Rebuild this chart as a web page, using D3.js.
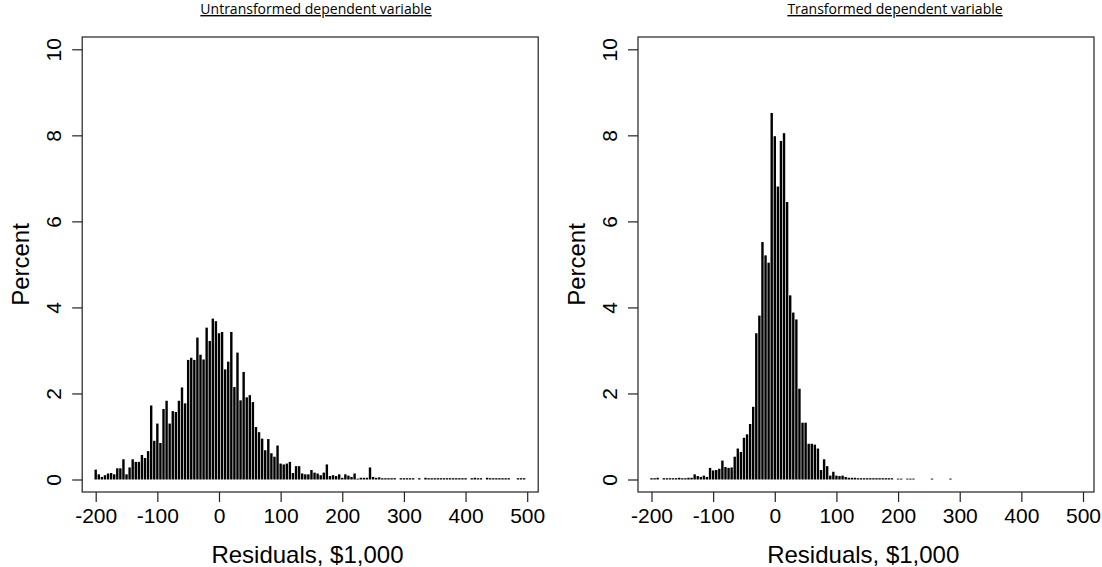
<!DOCTYPE html>
<html>
<head>
<meta charset="utf-8">
<script src="https://cdn.jsdelivr.net/npm/d3@7"></script>
<style>
  html, body { margin: 0; padding: 0; background: #fff; }
  svg { display: block; }
</style>
</head>
<body>
<div id="chart"></div>
<script>
// Residual histograms, 5-unit bins starting at -200 (percent of observations)
const binStart = -200;
const binWidth = 5;

const untransformedPct = [
  0.23, 0.12, 0.06, 0.10, 0.14, 0.15, 0.12, 0.26, 0.26, 0.47,
  0.12, 0.28, 0.47, 0.41, 0.41, 0.57, 0.50, 0.66, 1.72, 0.90,
  1.30, 0.85, 1.64, 1.83, 1.30, 1.59, 1.57, 1.83, 2.14, 1.77,
  2.78, 2.83, 2.78, 3.30, 2.90, 2.79, 3.53, 3.22, 3.74, 3.68,
  3.40, 3.43, 2.56, 2.74, 3.43, 2.15, 2.95, 1.84, 2.50, 1.91,
  1.96, 1.80, 1.22, 1.10, 0.95, 0.68, 0.94, 0.61, 0.53, 0.79,
  0.37, 0.35, 0.37, 0.41, 0.15, 0.31, 0.31, 0.14, 0.12, 0.12,
  0.22, 0.16, 0.14, 0.10, 0.16, 0.35, 0.08, 0.10, 0.08, 0.12,
  0.04, 0.12, 0.09, 0.06, 0.14, 0.02, 0.04, 0.04, 0.04, 0.28,
  0.06, 0.04, 0.05, 0.03, 0.03, 0.03, 0.03, 0.03, 0, 0.03,
  0.03, 0.03, 0.03, 0.03, 0, 0.03, 0, 0.04, 0.03, 0.03,
  0.03, 0.03, 0.03, 0.03, 0.03, 0.03, 0.03, 0.03, 0.03, 0.03,
  0.03, 0, 0.03, 0.04, 0.03, 0.03, 0, 0.04, 0.03, 0.03,
  0.03, 0.03, 0.03, 0.03, 0.03, 0, 0, 0.03, 0.03, 0.03
];

const transformedPct = [
  0.03, 0.03, 0.04, 0, 0.03, 0.03, 0.03, 0.03, 0.03, 0.04,
  0.03, 0.03, 0.04, 0.04, 0.12, 0.08, 0.06, 0.09, 0.06, 0.27,
  0.21, 0.22, 0.25, 0.44, 0.29, 0.27, 0.28, 0.53, 0.72, 0.64,
  0.97, 1.05, 1.29, 1.69, 3.40, 3.81, 5.52, 5.21, 5.04, 8.52,
  7.98, 6.81, 7.87, 8.05, 6.45, 4.28, 3.88, 3.72, 2.11, 1.32,
  1.32, 0.83, 0.83, 0.81, 0.72, 0.22, 0.47, 0.31, 0.09, 0.18,
  0.09, 0.08, 0.09, 0.06, 0.04, 0.04, 0.04, 0.03, 0.03, 0.03,
  0.03, 0.03, 0.03, 0.03, 0.03, 0.03, 0.03, 0.03, 0.03, 0,
  0.02, 0.02, 0, 0.02, 0.02, 0.02, 0, 0, 0, 0,
  0, 0.02, 0, 0, 0, 0, 0, 0.02
];

const xTicks = [-200, -100, 0, 100, 200, 300, 400, 500];
const yTicks = [0, 2, 4, 6, 8, 10];

const panels = [
  { title: "Untransformed dependent variable", values: untransformedPct, left: 95.7, titleX: 316 },
  { title: "Transformed dependent variable", values: transformedPct, left: 651.5, titleX: 895 }
];

const width = 1102, height = 567;
const tickSpan = 431.5;      // px from -200 tick to 500 tick
const boxTop = 37, boxBottom = 492;
const axisFont = "'Liberation Sans', Arial, sans-serif";

const svg = d3.select("#chart").append("svg")
  .attr("width", width)
  .attr("height", height);

panels.forEach(p => {
  const x = d3.scaleLinear().domain([-200, 500]).range([p.left, p.left + tickSpan]);
  const y = d3.scaleLinear().domain([0, 10]).range([479.5, 49.3]);
  const boxLeft = p.left - 13.5;
  const boxRight = p.left + tickSpan + 11;

  const g = svg.append("g");

  // title, underlined
  g.append("text")
    .attr("x", p.titleX)
    .attr("y", 14)
    .attr("text-anchor", "middle")
    .style("font-family", "'Open Sans', 'Noto Sans', sans-serif")
    .style("font-size", "14px")
    .style("text-decoration", "underline")
    .text(p.title);

  // bars
  g.append("g").selectAll("rect")
    .data(p.values.map((v, i) => ({ bin: binStart + i * binWidth, pct: v })).filter(d => d.pct > 0))
    .enter()
    .append("rect")
    .attr("x", d => x(d.bin) - 1.2)
    .attr("width", 2.4)
    .attr("y", d => y(d.pct))
    .attr("height", d => y(0) - y(d.pct))
    .attr("fill", "#000");

  // box
  g.append("rect")
    .attr("x", boxLeft)
    .attr("y", boxTop)
    .attr("width", boxRight - boxLeft)
    .attr("height", boxBottom - boxTop)
    .attr("fill", "none")
    .attr("stroke", "#222")
    .attr("stroke-width", 1.2);

  // x axis (plain hyphen minus, as in base R)
  const xAxis = g.append("g")
    .attr("transform", `translate(0,${boxBottom})`)
    .call(d3.axisBottom(x).tickValues(xTicks).tickFormat(d => String(d))
      .tickSize(10).tickSizeOuter(0).tickPadding(6));
  xAxis.select(".domain").remove();
  xAxis.selectAll("line").attr("stroke", "#222").attr("stroke-width", 1.2);
  xAxis.selectAll("text")
    .style("font-family", axisFont)
    .style("font-size", "21px")
    .attr("fill", "#000");

  // y axis, labels rotated like base R
  const yAxis = g.append("g")
    .attr("transform", `translate(${boxLeft},0)`)
    .call(d3.axisLeft(y).tickValues(yTicks).tickFormat(d => String(d))
      .tickSize(10).tickSizeOuter(0));
  yAxis.select(".domain").remove();
  yAxis.selectAll("line").attr("stroke", "#222").attr("stroke-width", 1.2);
  yAxis.selectAll("text")
    .attr("transform", "rotate(-90)")
    .attr("x", 0)
    .attr("y", -21.5)
    .attr("dy", null)
    .attr("text-anchor", "middle")
    .style("font-family", axisFont)
    .style("font-size", "21px")
    .attr("fill", "#000");

  // axis titles
  g.append("text")
    .attr("x", (x(-200) + x(500)) / 2 - 4)
    .attr("y", 563)
    .attr("text-anchor", "middle")
    .style("font-family", axisFont)
    .style("font-size", "24px")
    .text("Residuals, $1,000");

  g.append("text")
    .attr("transform", `translate(${boxLeft - 53},${(boxTop + boxBottom) / 2}) rotate(-90)`)
    .attr("text-anchor", "middle")
    .style("font-family", axisFont)
    .style("font-size", "24px")
    .text("Percent");
});
</script>
</body>
</html>
